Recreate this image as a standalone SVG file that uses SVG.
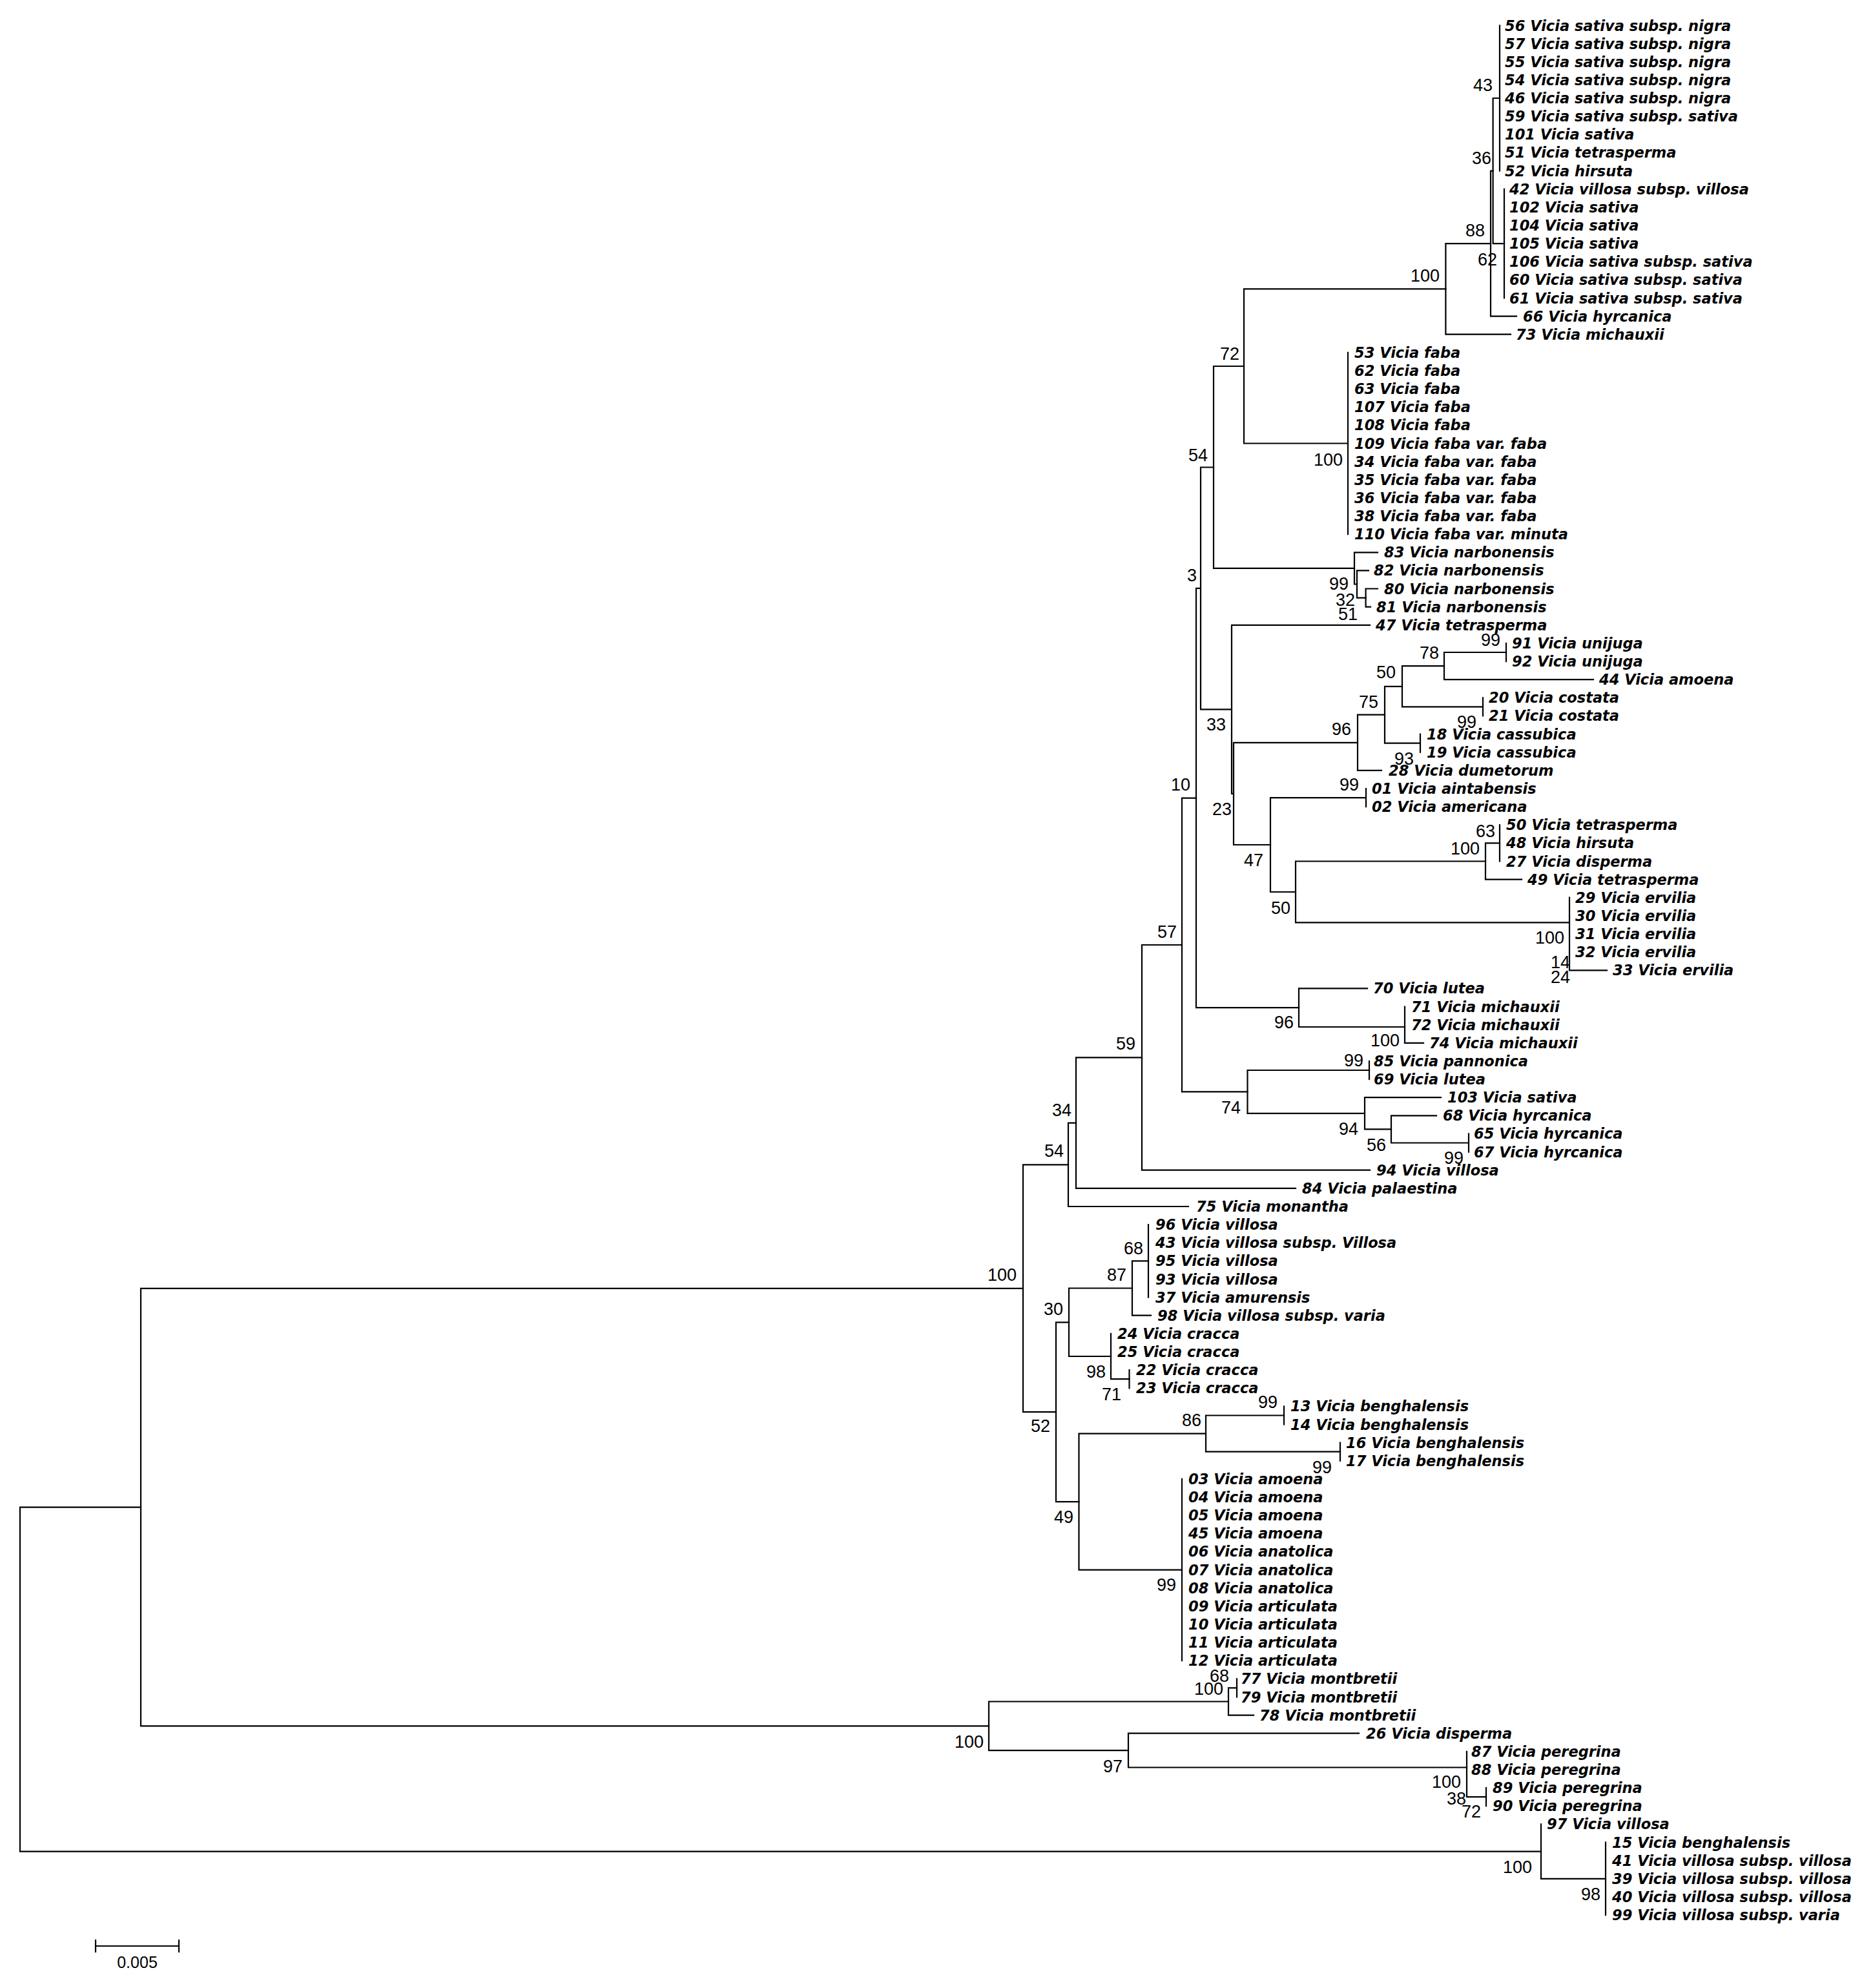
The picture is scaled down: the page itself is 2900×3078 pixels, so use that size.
<svg xmlns="http://www.w3.org/2000/svg" width="2900" height="3078" viewBox="0 0 2900 3078">
<style>
.br{stroke:#000;stroke-width:2.2;fill:none;stroke-linecap:square}
.lf{font-family:"DejaVu Sans",sans-serif;font-weight:bold;font-style:italic;font-size:22.5px;fill:#000}
.bs{font-family:"Liberation Sans",Arial,sans-serif;font-size:27px;fill:#000;text-anchor:end}
.sc{font-family:"Liberation Sans",Arial,sans-serif;font-size:25px;fill:#000;text-anchor:middle}
</style>
<rect width="2900" height="3078" fill="#fff"/>
<g id="connectors" class="br">
<path id="e-root" d="M31 2333.6V2866.6M31 2333.6H218M31 2866.6H2386"/>
<path id="e-A" d="M218 1994.8V2672.3M218 1994.8H1584M218 2672.3H1531"/>
<path id="e-B" d="M1584 1803.3V2186.2M1584 1803.3H1654M1584 2186.2H1635"/>
<path id="e-54b" d="M1654 1738.6V1868M1654 1738.6H1666M1654 1868H1840"/>
<path id="e-34" d="M1666 1637.4V1839.8M1666 1637.4H1768M1666 1839.8H2006"/>
<path id="e-59" d="M1768 1463V1811.7M1768 1463H1830M1768 1811.7H2121"/>
<path id="e-57" d="M1830 1235.6V1690.4M1830 1235.6H1852M1830 1690.4H1931.5"/>
<path id="e-10" d="M1852 910.9V1560.2M1852 910.9H1859M1852 1560.2H2011"/>
<path id="e-3" d="M1859 723.5V1098.4M1859 723.5H1879M1859 1098.4H1907"/>
<path id="e-54a" d="M1879 567V879.9M1879 567H1926M1879 879.9H2097"/>
<path id="e-72" d="M1926 447.4V686.5M1926 447.4H2238.4M1926 686.5H2087"/>
<path id="e-100s" d="M2238.4 377.1V517.7M2238.4 377.1H2308M2238.4 517.7H2339"/>
<path id="e-88" d="M2308 264.6V489.6M2308 264.6H2311.6M2308 489.6H2348"/>
<path id="e-36" d="M2311.6 152V377.1M2311.6 152H2322M2311.6 377.1H2329"/>
<path id="e-43" d="M2322 39.5V264.5"/>
<path id="e-62" d="M2329 292.7V461.5"/>
<path id="e-100f" d="M2087 545.8V827.1"/>
<path id="e-99n" d="M2097 855.3V904.5M2097 855.3H2133M2097 904.5H2101"/>
<path id="e-32n" d="M2101 883.4V925.6M2101 883.4H2119M2101 925.6H2114.6"/>
<path id="e-51n" d="M2114.6 911.5V939.7M2114.6 911.5H2133M2114.6 939.7H2122"/>
<path id="e-33" d="M1907 967.8V1228.9M1907 967.8H2121M1907 1228.9H1910"/>
<path id="e-23" d="M1910 1149.8V1308M1910 1149.8H2102M1910 1308H1967"/>
<path id="e-96a" d="M2102 1106.7V1192.8M2102 1106.7H2144M2102 1192.8H2139"/>
<path id="e-75" d="M2144 1062.8V1150.7M2144 1062.8H2171M2144 1150.7H2199"/>
<path id="e-50u" d="M2171 1031.1V1094.4M2171 1031.1H2236M2171 1094.4H2296"/>
<path id="e-78" d="M2236 1010V1052.2M2236 1010H2332M2236 1052.2H2467"/>
<path id="e-99u" d="M2332 995.9V1024.1"/>
<path id="e-99c" d="M2296 1080.3V1108.4"/>
<path id="e-93" d="M2199 1136.6V1164.7"/>
<path id="e-47" d="M1967 1235.1V1381M1967 1235.1H2115M1967 1381H2006"/>
<path id="e-99a" d="M2115 1221V1249.1"/>
<path id="e-50l" d="M2006 1333.5V1428.4M2006 1333.5H2300M2006 1428.4H2430"/>
<path id="e-100t" d="M2300 1305.4V1361.6M2300 1305.4H2322M2300 1361.6H2356"/>
<path id="e-63" d="M2322 1277.2V1333.5"/>
<path id="e-100e" d="M2430 1389.7V1502.3M2430 1502.3H2488"/>
<path id="e-96b" d="M2011 1530.4V1590M2011 1530.4H2117M2011 1590H2175"/>
<path id="e-100m" d="M2175 1558.5V1614.8M2175 1614.8H2204"/>
<path id="e-74" d="M1931.5 1657V1723.8M1931.5 1657H2120M1931.5 1723.8H2113"/>
<path id="e-99p" d="M2120 1642.9V1671"/>
<path id="e-94" d="M2113 1699.2V1748.4M2113 1699.2H2231M2113 1748.4H2154"/>
<path id="e-56" d="M2154 1727.3V1769.5M2154 1727.3H2224M2154 1769.5H2274"/>
<path id="e-99h" d="M2274 1755.4V1783.6"/>
<path id="e-52" d="M1635 2047.3V2325.1M1635 2047.3H1655M1635 2325.1H1670.5"/>
<path id="e-30" d="M1655 1994.5V2100M1655 1994.5H1753M1655 2100H1720"/>
<path id="e-87" d="M1753 1952.3V2036.7M1753 1952.3H1778M1753 2036.7H1782"/>
<path id="e-68v" d="M1778 1896.1V2008.6"/>
<path id="e-98c" d="M1720 2064.9V2135.2M1720 2135.2H1748.5"/>
<path id="e-71" d="M1748.5 2121.1V2149.3"/>
<path id="e-49" d="M1670.5 2219.6V2430.6M1670.5 2219.6H1867M1670.5 2430.6H1830"/>
<path id="e-86" d="M1867 2191.5V2247.7M1867 2191.5H1988M1867 2247.7H2075"/>
<path id="e-99b1" d="M1988 2177.4V2205.5"/>
<path id="e-99b2" d="M2075 2233.6V2261.8"/>
<path id="e-99am" d="M1830 2289.9V2571.2"/>
<path id="e-C" d="M1531 2634.5V2710.1M1531 2634.5H1902M1531 2710.1H1747"/>
<path id="e-100mo" d="M1902 2613.4V2655.6M1902 2613.4H1915M1902 2655.6H1941"/>
<path id="e-68m" d="M1915 2599.3V2627.5"/>
<path id="e-97" d="M1747 2683.7V2736.5M1747 2683.7H2104M1747 2736.5H2271"/>
<path id="e-100p" d="M2271 2711.9V2782.2M2271 2782.2H2301"/>
<path id="e-72p" d="M2301 2768.1V2796.2"/>
<path id="e-Z" d="M2386 2824.4V2908.8M2386 2908.8H2486"/>
<path id="e-98v" d="M2486 2852.5V2965"/>
</g>
<g id="leaves" class="lf">
<g id="leaf-56"><text x="2330" y="47.5">56 Vicia sativa subsp. nigra</text></g>
<g id="leaf-57"><text x="2330" y="75.6">57 Vicia sativa subsp. nigra</text></g>
<g id="leaf-55"><text x="2330" y="103.8">55 Vicia sativa subsp. nigra</text></g>
<g id="leaf-54"><text x="2330" y="131.9">54 Vicia sativa subsp. nigra</text></g>
<g id="leaf-46"><text x="2330" y="160">46 Vicia sativa subsp. nigra</text></g>
<g id="leaf-59"><text x="2330" y="188.2">59 Vicia sativa subsp. sativa</text></g>
<g id="leaf-101"><text x="2330" y="216.3">101 Vicia sativa</text></g>
<g id="leaf-51"><text x="2330" y="244.4">51 Vicia tetrasperma</text></g>
<g id="leaf-52"><text x="2330" y="272.5">52 Vicia hirsuta</text></g>
<g id="leaf-42"><text x="2337" y="300.7">42 Vicia villosa subsp. villosa</text></g>
<g id="leaf-102"><text x="2337" y="328.8">102 Vicia sativa</text></g>
<g id="leaf-104"><text x="2337" y="356.9">104 Vicia sativa</text></g>
<g id="leaf-105"><text x="2337" y="385.1">105 Vicia sativa</text></g>
<g id="leaf-106"><text x="2337" y="413.2">106 Vicia sativa subsp. sativa</text></g>
<g id="leaf-60"><text x="2337" y="441.3">60 Vicia sativa subsp. sativa</text></g>
<g id="leaf-61"><text x="2337" y="469.5">61 Vicia sativa subsp. sativa</text></g>
<g id="leaf-66"><text x="2358" y="497.6">66 Vicia hyrcanica</text></g>
<g id="leaf-73"><text x="2347" y="525.7">73 Vicia michauxii</text></g>
<g id="leaf-53"><text x="2097" y="553.8">53 Vicia faba</text></g>
<g id="leaf-62"><text x="2097" y="582">62 Vicia faba</text></g>
<g id="leaf-63"><text x="2097" y="610.1">63 Vicia faba</text></g>
<g id="leaf-107"><text x="2097" y="638.2">107 Vicia faba</text></g>
<g id="leaf-108"><text x="2097" y="666.4">108 Vicia faba</text></g>
<g id="leaf-109"><text x="2097" y="694.5">109 Vicia faba var. faba</text></g>
<g id="leaf-34"><text x="2097" y="722.6">34 Vicia faba var. faba</text></g>
<g id="leaf-35"><text x="2097" y="750.8">35 Vicia faba var. faba</text></g>
<g id="leaf-36"><text x="2097" y="778.9">36 Vicia faba var. faba</text></g>
<g id="leaf-38"><text x="2097" y="807">38 Vicia faba var. faba</text></g>
<g id="leaf-110"><text x="2097" y="835.1">110 Vicia faba var. minuta</text></g>
<g id="leaf-83"><text x="2143" y="863.3">83 Vicia narbonensis</text></g>
<g id="leaf-82"><text x="2127" y="891.4">82 Vicia narbonensis</text></g>
<g id="leaf-80"><text x="2143" y="919.5">80 Vicia narbonensis</text></g>
<g id="leaf-81"><text x="2131" y="947.7">81 Vicia narbonensis</text></g>
<g id="leaf-47"><text x="2130" y="975.8">47 Vicia tetrasperma</text></g>
<g id="leaf-91"><text x="2341" y="1003.9">91 Vicia unijuga</text></g>
<g id="leaf-92"><text x="2341" y="1032.1">92 Vicia unijuga</text></g>
<g id="leaf-44"><text x="2476" y="1060.2">44 Vicia amoena</text></g>
<g id="leaf-20"><text x="2305" y="1088.3">20 Vicia costata</text></g>
<g id="leaf-21"><text x="2305" y="1116.4">21 Vicia costata</text></g>
<g id="leaf-18"><text x="2209" y="1144.6">18 Vicia cassubica</text></g>
<g id="leaf-19"><text x="2209" y="1172.7">19 Vicia cassubica</text></g>
<g id="leaf-28"><text x="2150" y="1200.8">28 Vicia dumetorum</text></g>
<g id="leaf-01"><text x="2124" y="1229">01 Vicia aintabensis</text></g>
<g id="leaf-02"><text x="2124" y="1257.1">02 Vicia americana</text></g>
<g id="leaf-50"><text x="2332" y="1285.2">50 Vicia tetrasperma</text></g>
<g id="leaf-48"><text x="2332" y="1313.4">48 Vicia hirsuta</text></g>
<g id="leaf-27"><text x="2332" y="1341.5">27 Vicia disperma</text></g>
<g id="leaf-49"><text x="2365" y="1369.6">49 Vicia tetrasperma</text></g>
<g id="leaf-29"><text x="2439" y="1397.7">29 Vicia ervilia</text></g>
<g id="leaf-30"><text x="2439" y="1425.9">30 Vicia ervilia</text></g>
<g id="leaf-31"><text x="2439" y="1454">31 Vicia ervilia</text></g>
<g id="leaf-32"><text x="2439" y="1482.1">32 Vicia ervilia</text></g>
<g id="leaf-33"><text x="2497" y="1510.3">33 Vicia ervilia</text></g>
<g id="leaf-70"><text x="2126" y="1538.4">70 Vicia lutea</text></g>
<g id="leaf-71"><text x="2185" y="1566.5">71 Vicia michauxii</text></g>
<g id="leaf-72"><text x="2185" y="1594.7">72 Vicia michauxii</text></g>
<g id="leaf-74"><text x="2213" y="1622.8">74 Vicia michauxii</text></g>
<g id="leaf-85"><text x="2127" y="1650.9">85 Vicia pannonica</text></g>
<g id="leaf-69"><text x="2127" y="1679">69 Vicia lutea</text></g>
<g id="leaf-103"><text x="2241" y="1707.2">103 Vicia sativa</text></g>
<g id="leaf-68"><text x="2234" y="1735.3">68 Vicia hyrcanica</text></g>
<g id="leaf-65"><text x="2282" y="1763.4">65 Vicia hyrcanica</text></g>
<g id="leaf-67"><text x="2282" y="1791.6">67 Vicia hyrcanica</text></g>
<g id="leaf-94"><text x="2131" y="1819.7">94 Vicia villosa</text></g>
<g id="leaf-84"><text x="2016" y="1847.8">84 Vicia palaestina</text></g>
<g id="leaf-75"><text x="1852" y="1876">75 Vicia monantha</text></g>
<g id="leaf-96"><text x="1789" y="1904.1">96 Vicia villosa</text></g>
<g id="leaf-43"><text x="1789" y="1932.2">43 Vicia villosa subsp. Villosa</text></g>
<g id="leaf-95"><text x="1789" y="1960.3">95 Vicia villosa</text></g>
<g id="leaf-93"><text x="1789" y="1988.5">93 Vicia villosa</text></g>
<g id="leaf-37"><text x="1789" y="2016.6">37 Vicia amurensis</text></g>
<g id="leaf-98"><text x="1792" y="2044.7">98 Vicia villosa subsp. varia</text></g>
<g id="leaf-24"><text x="1730" y="2072.9">24 Vicia cracca</text></g>
<g id="leaf-25"><text x="1730" y="2101">25 Vicia cracca</text></g>
<g id="leaf-22"><text x="1759" y="2129.1">22 Vicia cracca</text></g>
<g id="leaf-23"><text x="1759" y="2157.3">23 Vicia cracca</text></g>
<g id="leaf-13"><text x="1998" y="2185.4">13 Vicia benghalensis</text></g>
<g id="leaf-14"><text x="1998" y="2213.5">14 Vicia benghalensis</text></g>
<g id="leaf-16"><text x="2084" y="2241.6">16 Vicia benghalensis</text></g>
<g id="leaf-17"><text x="2084" y="2269.8">17 Vicia benghalensis</text></g>
<g id="leaf-03"><text x="1840" y="2297.9">03 Vicia amoena</text></g>
<g id="leaf-04"><text x="1840" y="2326">04 Vicia amoena</text></g>
<g id="leaf-05"><text x="1840" y="2354.2">05 Vicia amoena</text></g>
<g id="leaf-45"><text x="1840" y="2382.3">45 Vicia amoena</text></g>
<g id="leaf-06"><text x="1840" y="2410.4">06 Vicia anatolica</text></g>
<g id="leaf-07"><text x="1840" y="2438.6">07 Vicia anatolica</text></g>
<g id="leaf-08"><text x="1840" y="2466.7">08 Vicia anatolica</text></g>
<g id="leaf-09"><text x="1840" y="2494.8">09 Vicia articulata</text></g>
<g id="leaf-10"><text x="1840" y="2522.9">10 Vicia articulata</text></g>
<g id="leaf-11"><text x="1840" y="2551.1">11 Vicia articulata</text></g>
<g id="leaf-12"><text x="1840" y="2579.2">12 Vicia articulata</text></g>
<g id="leaf-77"><text x="1921" y="2607.3">77 Vicia montbretii</text></g>
<g id="leaf-79"><text x="1921" y="2635.5">79 Vicia montbretii</text></g>
<g id="leaf-78"><text x="1950" y="2663.6">78 Vicia montbretii</text></g>
<g id="leaf-26"><text x="2115" y="2691.7">26 Vicia disperma</text></g>
<g id="leaf-87"><text x="2278" y="2719.9">87 Vicia peregrina</text></g>
<g id="leaf-88"><text x="2278" y="2748">88 Vicia peregrina</text></g>
<g id="leaf-89"><text x="2311" y="2776.1">89 Vicia peregrina</text></g>
<g id="leaf-90"><text x="2311" y="2804.2">90 Vicia peregrina</text></g>
<g id="leaf-97"><text x="2395" y="2832.4">97 Vicia villosa</text></g>
<g id="leaf-15"><text x="2496" y="2860.5">15 Vicia benghalensis</text></g>
<g id="leaf-41"><text x="2496" y="2888.6">41 Vicia villosa subsp. villosa</text></g>
<g id="leaf-39"><text x="2496" y="2916.8">39 Vicia villosa subsp. villosa</text></g>
<g id="leaf-40"><text x="2496" y="2944.9">40 Vicia villosa subsp. villosa</text></g>
<g id="leaf-99"><text x="2496" y="2973">99 Vicia villosa subsp. varia</text></g>
</g>
<g id="bootstrap" class="bs">
<text x="2311" y="140.7">43</text>
<text x="2309" y="253.7">36</text>
<text x="2299" y="365.7">88</text>
<text x="2318" y="410.7">62</text>
<text x="2229" y="435.7">100</text>
<text x="1919" y="556.7">72</text>
<text x="1870" y="713.7">54</text>
<text x="2079" y="720.7">100</text>
<text x="1853" y="899.7">3</text>
<text x="2088" y="912.7">99</text>
<text x="2098" y="937.7">32</text>
<text x="2102" y="959.7">51</text>
<text x="2323" y="999.7">99</text>
<text x="2228" y="1019.7">78</text>
<text x="2161" y="1049.7">50</text>
<text x="2134" y="1095.7">75</text>
<text x="2286" y="1126.7">99</text>
<text x="1898" y="1130.7">33</text>
<text x="2092" y="1137.7">96</text>
<text x="2189" y="1183.7">93</text>
<text x="1843" y="1223.7">10</text>
<text x="2104" y="1223.7">99</text>
<text x="1907" y="1261.7">23</text>
<text x="2315" y="1295.7">63</text>
<text x="2291" y="1322.7">100</text>
<text x="1956" y="1340.7">47</text>
<text x="1998" y="1414.7">50</text>
<text x="1822" y="1451.7">57</text>
<text x="2422" y="1460.7">100</text>
<text x="2431" y="1498.7">14</text>
<text x="2431" y="1521.7">24</text>
<text x="2003" y="1591.7">96</text>
<text x="2167" y="1619.7">100</text>
<text x="1758" y="1624.7">59</text>
<text x="2111" y="1650.7">99</text>
<text x="1921" y="1723.7">74</text>
<text x="1659" y="1727.7">34</text>
<text x="2103" y="1756.7">94</text>
<text x="2146" y="1781.7">56</text>
<text x="1647" y="1790.7">54</text>
<text x="2266" y="1801.7">99</text>
<text x="1770" y="1941.7">68</text>
<text x="1574" y="1982.7">100</text>
<text x="1744" y="1982.7">87</text>
<text x="1646" y="2035.7">30</text>
<text x="1712" y="2132.7">98</text>
<text x="1736" y="2167.7">71</text>
<text x="1978" y="2179.7">99</text>
<text x="1860" y="2207.7">86</text>
<text x="1626" y="2216.7">52</text>
<text x="2062" y="2280.7">99</text>
<text x="1662" y="2357.7">49</text>
<text x="1821" y="2462.7">99</text>
<text x="1903" y="2603.7">68</text>
<text x="1894" y="2623.7">100</text>
<text x="1523" y="2705.7">100</text>
<text x="1738" y="2743.7">97</text>
<text x="2262" y="2767.7">100</text>
<text x="2270" y="2793.7">38</text>
<text x="2293" y="2813.7">72</text>
<text x="2372" y="2899.7">100</text>
<text x="2478" y="2941.7">98</text>
</g>
<g id="scale-bar">
<path class="br" d="M148 3013H277M148 3004V3022M277 3004V3022"/>
<text class="sc" x="212.5" y="3047">0.005</text>
</g>
</svg>
